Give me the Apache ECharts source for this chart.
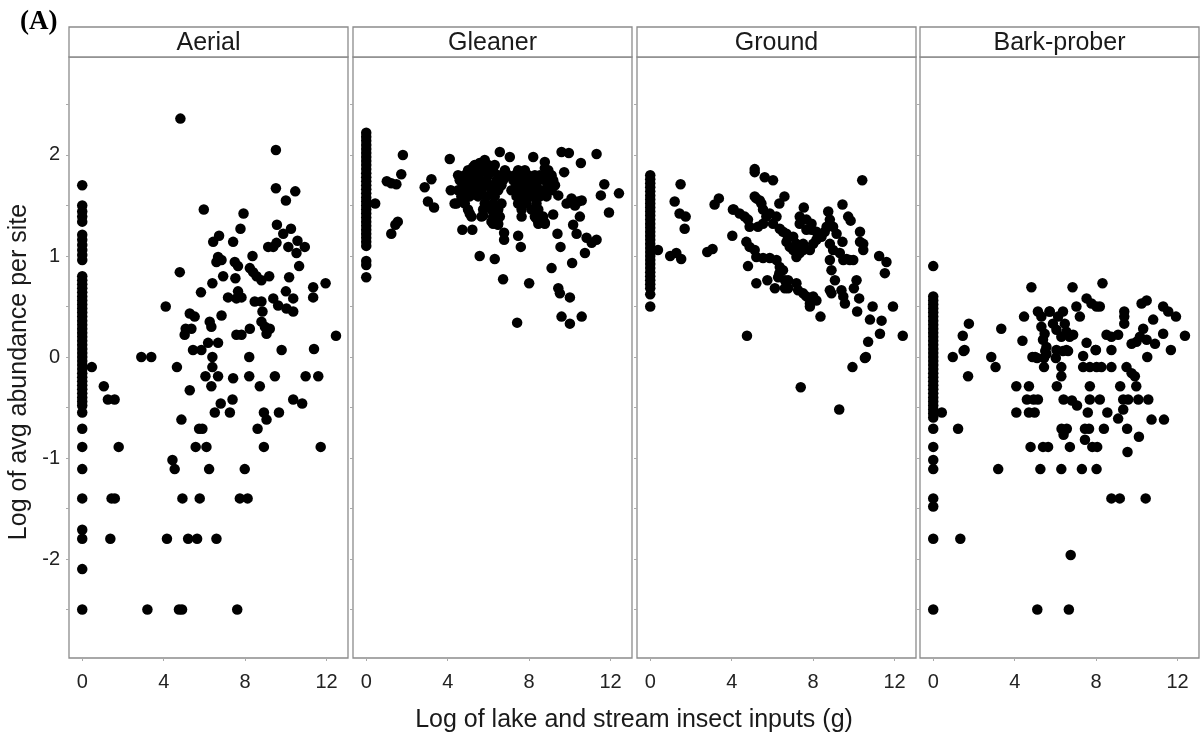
<!DOCTYPE html>
<html><head><meta charset="utf-8">
<script src="https://cdn.jsdelivr.net/npm/echarts@6/dist/echarts.min.js"></script>
<style>html,body{margin:0;padding:0;background:#fff}#c{width:1204px;height:742px}</style>
</head><body><div id="c"></div>
<script>
const panels = ['Aerial', 'Gleaner', 'Ground', 'Bark-prober'];
const xTickLabels = [0, 4, 8, 12];
const yTickLabels = [-2, -1, 0, 1, 2];
const yTickMarks = [-2.5, -2, -1.5, -1, -0.5, 0, 0.5, 1, 1.5, 2, 2.5];

// y values of the sites with x = 0 (stacked columns)
const aerialZeroY = [1.70,1.50,1.44,1.39,1.34,1.21,1.16,1.11,1.06,1.01,0.96,0.80,0.76,0.72,0.68,0.64,0.60,0.56,0.52,0.48,0.44,0.40,0.36,0.32,0.28,0.24,0.20,0.16,0.12,0.08,0.04,0.00,-0.04,-0.08,-0.12,-0.16,-0.20,-0.24,-0.28,-0.32,-0.36,-0.40,-0.44,-0.48,-0.55,-0.71,-0.89,-1.11,-1.40,-1.71,-1.80,-2.10,-2.50];
const gleanerZeroY = [2.22,2.18,2.14,2.10,2.06,2.02,1.98,1.94,1.90,1.86,1.82,1.78,1.74,1.70,1.66,1.62,1.58,1.54,1.50,1.46,1.42,1.38,1.34,1.30,1.26,1.22,1.18,1.14,1.10,0.95,0.91,0.79];
const groundZeroY = [1.80,1.76,1.72,1.68,1.64,1.60,1.56,1.52,1.48,1.44,1.40,1.36,1.32,1.28,1.24,1.20,1.16,1.12,1.08,1.04,1.00,0.96,0.92,0.88,0.84,0.80,0.76,0.72,0.68,0.62,0.50];
const barkZeroY = [0.90,0.60,0.56,0.52,0.48,0.44,0.40,0.36,0.32,0.28,0.24,0.20,0.16,0.12,0.08,0.04,0.00,-0.04,-0.08,-0.12,-0.16,-0.20,-0.24,-0.28,-0.32,-0.36,-0.40,-0.44,-0.48,-0.52,-0.56,-0.60,-0.71,-0.89,-1.02,-1.11,-1.40,-1.48,-1.80,-2.50];

// [x, y] of the other sites
const aerialPts = [[4.82,2.36],[9.51,2.05],[9.51,1.67],[10.46,1.64],[10.0,1.55],[5.97,1.46],[7.92,1.42],[7.77,1.27],[9.56,1.31],[10.25,1.27],[9.87,1.22],[6.72,1.20],[6.43,1.14],[7.41,1.14],[10.57,1.15],[9.54,1.13],[9.13,1.09],[9.38,1.09],[10.12,1.09],[10.93,1.09],[10.52,1.03],[8.36,1.00],[6.67,0.99],[6.84,0.96],[6.59,0.94],[7.49,0.94],[7.65,0.90],[10.65,0.90],[4.79,0.84],[8.23,0.88],[8.39,0.84],[6.92,0.80],[7.52,0.78],[8.56,0.80],[8.80,0.76],[9.18,0.80],[10.16,0.79],[6.39,0.73],[11.95,0.73],[11.34,0.69],[11.34,0.59],[5.83,0.64],[7.65,0.65],[7.82,0.59],[7.16,0.59],[7.57,0.58],[10.0,0.65],[9.38,0.58],[10.36,0.58],[8.47,0.55],[8.80,0.55],[9.62,0.51],[10.03,0.48],[10.36,0.45],[4.10,0.50],[8.85,0.45],[5.28,0.43],[5.52,0.40],[6.84,0.41],[6.26,0.35],[6.34,0.30],[8.80,0.35],[8.97,0.30],[9.21,0.28],[9.05,0.23],[5.08,0.28],[5.36,0.28],[5.03,0.22],[8.23,0.28],[7.57,0.22],[7.82,0.22],[12.46,0.21],[5.44,0.07],[5.85,0.07],[6.18,0.14],[6.67,0.14],[9.79,0.07],[11.38,0.08],[6.39,0.00],[8.20,0.00],[2.90,0.00],[3.39,0.00],[0.47,-0.10],[4.65,-0.10],[6.39,-0.10],[6.05,-0.19],[6.67,-0.19],[7.41,-0.21],[8.20,-0.19],[9.46,-0.19],[10.97,-0.19],[11.59,-0.19],[1.06,-0.29],[6.34,-0.29],[8.72,-0.29],[5.28,-0.33],[1.26,-0.42],[1.59,-0.42],[7.38,-0.42],[10.36,-0.42],[6.80,-0.46],[10.80,-0.46],[6.51,-0.55],[7.25,-0.55],[8.92,-0.55],[9.66,-0.55],[9.05,-0.62],[4.87,-0.62],[5.74,-0.71],[5.90,-0.71],[8.61,-0.71],[1.79,-0.89],[5.57,-0.89],[6.10,-0.89],[8.92,-0.89],[11.71,-0.89],[4.43,-1.02],[4.54,-1.11],[6.23,-1.11],[7.98,-1.11],[1.44,-1.40],[1.60,-1.40],[4.92,-1.40],[5.77,-1.40],[7.74,-1.40],[8.12,-1.40],[1.38,-1.80],[4.16,-1.80],[5.20,-1.80],[5.64,-1.80],[6.59,-1.80],[3.20,-2.50],[4.75,-2.50],[4.90,-2.50],[7.61,-2.50]];

const gleanerPts = [[0.44,1.52],[1.80,2.00],[1.72,1.81],[1.01,1.74],[1.23,1.72],[1.48,1.71],[1.55,1.34],[1.43,1.31],[1.23,1.22],[4.10,1.96],[3.20,1.76],[2.87,1.68],[3.03,1.54],[3.33,1.48],[4.15,1.65],[4.34,1.52],[6.56,2.03],[7.05,1.98],[8.20,1.98],[9.59,2.03],[9.95,2.02],[11.31,2.01],[10.54,1.92],[8.77,1.93],[8.77,1.87],[5.82,1.95],[5.57,1.92],[5.24,1.88],[9.72,1.83],[11.69,1.71],[11.52,1.60],[12.41,1.62],[11.92,1.43],[9.43,1.60],[8.85,1.59],[10.08,1.57],[10.41,1.54],[10.58,1.55],[9.84,1.52],[10.25,1.50],[10.49,1.39],[9.18,1.41],[10.16,1.31],[10.33,1.22],[10.82,1.18],[11.07,1.13],[11.31,1.16],[10.74,1.03],[9.39,1.22],[9.54,1.09],[10.11,0.93],[9.10,0.88],[9.43,0.68],[9.51,0.63],[10.0,0.59],[9.59,0.40],[10.0,0.33],[10.58,0.40],[7.41,0.34],[6.72,0.77],[8.00,0.73],[5.57,1.00],[6.31,0.97],[7.46,1.20],[7.59,1.09],[6.77,1.23],[6.77,1.16],[4.72,1.26],[5.21,1.26],[5.74,1.40],[5.08,1.42],[6.15,1.34],[6.47,1.31],[8.36,1.37],[8.77,1.33],
[5.33,1.90],[5.66,1.90],[5.99,1.90],[6.31,1.90],
[5.00,1.85],[5.33,1.85],[5.82,1.85],[6.23,1.85],[6.81,1.85],[7.46,1.85],[7.79,1.85],[8.94,1.85],
[4.51,1.80],[4.84,1.80],[5.17,1.80],[5.49,1.80],[5.99,1.80],[6.48,1.80],[6.97,1.80],[7.30,1.80],[7.63,1.80],[7.95,1.80],[8.28,1.80],[8.53,1.80],[8.86,1.80],[9.10,1.80],
[4.59,1.75],[4.92,1.75],[5.25,1.75],[5.58,1.75],[5.90,1.75],[6.40,1.75],[6.72,1.75],[7.22,1.75],[7.54,1.75],[7.87,1.75],[8.12,1.75],[8.45,1.75],[8.77,1.75],[9.18,1.75],
[4.76,1.70],[5.08,1.70],[5.41,1.70],[5.82,1.70],[6.23,1.70],[6.64,1.70],[7.38,1.70],[7.71,1.70],[8.04,1.70],[8.36,1.70],[8.94,1.70],[9.27,1.70],
[4.51,1.65],[4.92,1.65],[5.33,1.65],[5.66,1.65],[6.15,1.65],[6.48,1.65],[7.13,1.65],[7.46,1.65],[7.87,1.65],[8.28,1.65],[8.69,1.65],[9.10,1.65],
[4.67,1.59],[5.08,1.59],[5.49,1.59],[5.90,1.59],[6.31,1.59],[7.38,1.59],[7.71,1.59],[8.12,1.59],[8.53,1.59],
[4.43,1.52],[4.84,1.52],[5.82,1.52],[6.23,1.52],[6.64,1.52],[7.46,1.52],[7.87,1.52],[8.36,1.52],
[5.00,1.46],[5.74,1.46],[6.15,1.46],[6.48,1.46],[7.63,1.46],[8.12,1.46],[8.45,1.46],
[5.17,1.39],[5.66,1.39],[6.23,1.39],[6.56,1.39],[7.63,1.39],[8.28,1.39],[8.69,1.39],
[6.23,1.32],[6.48,1.32],[8.45,1.32],[8.77,1.32]];

const groundPts = [[0.38,1.06],[1.49,1.71],[1.20,1.54],[1.44,1.42],[1.74,1.39],[1.69,1.27],[0.98,1.00],[1.28,1.03],[1.52,0.97],[2.80,1.04],[3.06,1.07],[3.16,1.51],[3.37,1.57],[4.10,1.46],[4.03,1.20],[5.13,1.83],[5.13,1.86],[5.62,1.78],[6.03,1.75],[10.41,1.75],[5.13,1.59],[5.38,1.55],[6.59,1.59],[6.34,1.52],[4.39,1.42],[4.64,1.39],[4.80,1.36],[7.54,1.48],[8.74,1.44],[9.44,1.51],[9.72,1.39],[9.84,1.35],[7.34,1.39],[7.67,1.36],[7.92,1.32],[10.30,1.24],[10.30,1.14],[10.46,1.12],[10.46,1.06],[11.24,1.00],[11.60,0.94],[11.52,0.83],[9.44,1.14],[9.64,0.97],[9.97,0.96],[4.80,0.90],[5.21,0.73],[5.75,0.76],[6.12,0.68],[6.61,0.68],[6.77,0.76],[6.34,0.83],[10.13,0.76],[10.0,0.68],[10.26,0.58],[10.16,0.45],[10.92,0.50],[10.79,0.37],[11.36,0.36],[11.28,0.23],[11.92,0.50],[12.40,0.21],[10.70,0.15],[10.59,0.00],[4.75,0.21],[8.36,0.40],[10.54,-0.01],[9.93,-0.10],[7.39,-0.30],[9.28,-0.52],
[4.06,1.46],[5.21,1.57],[5.46,1.52],[5.54,1.46],[5.70,1.39],[5.87,1.42],[6.20,1.39],[6.03,1.32],[5.54,1.32],[5.29,1.29],[4.88,1.29],[4.72,1.14],[4.88,1.09],[5.13,1.06],[5.21,0.99],[5.54,0.98],[5.87,0.98],[6.20,0.96],[6.36,0.89],[6.28,0.79],[6.52,0.86],[6.69,1.14],[6.85,1.09],[7.02,1.06],[7.18,0.99],[7.34,1.03],[7.51,1.06],[7.84,1.06],[8.00,1.12],[8.16,1.16],[8.41,1.19],[8.57,1.24],[8.66,1.29],[8.82,1.36],[8.98,1.29],[9.15,1.22],[8.82,1.12],[8.98,1.06],[8.82,0.96],[8.90,0.86],[9.07,0.76],[9.31,1.03],[9.48,0.96],[9.80,0.96],[6.69,1.22],[6.52,1.24],[6.36,1.27],[7.02,1.19],[7.18,1.12],[7.51,1.12],[7.67,1.26],[7.34,1.32],[7.92,1.26],[8.16,1.24],[6.61,0.76],[6.77,0.68],[7.18,0.73],[7.26,0.66],[7.51,0.63],[7.67,0.60],[7.84,0.53],[8.00,0.60],[8.16,0.56],[7.84,0.50],[8.82,0.66],[8.90,0.63],[9.39,0.66],[9.48,0.60],[9.56,0.53]];

const barkPts = [[4.82,0.69],[6.84,0.69],[8.31,0.73],[7.53,0.58],[7.77,0.53],[8.02,0.50],[8.18,0.50],[7.03,0.50],[7.20,0.40],[5.14,0.45],[5.71,0.45],[6.37,0.45],[4.46,0.40],[1.75,0.33],[1.45,0.21],[1.54,0.07],[0.96,0.00],[3.34,0.28],[2.85,0.00],[4.38,0.16],[9.38,0.45],[9.38,0.40],[9.38,0.33],[8.51,0.22],[8.75,0.20],[9.08,0.22],[8.75,0.07],[7.53,0.14],[7.99,0.07],[7.36,0.01],[10.23,0.53],[10.48,0.56],[11.29,0.50],[11.54,0.45],[11.92,0.40],[10.80,0.37],[10.31,0.28],[10.15,0.20],[9.98,0.15],[9.74,0.13],[10.48,0.17],[11.29,0.23],[10.89,0.13],[12.36,0.21],[11.67,0.07],[10.51,0.00],[4.87,0.00],[5.00,0.00],
[5.31,0.40],[5.31,0.30],[5.47,0.23],[5.39,0.17],[5.56,0.10],[5.72,0.45],[5.88,0.33],[6.05,0.27],[6.13,0.40],[6.29,0.20],[6.46,0.33],[6.54,0.25],[6.70,0.20],[6.87,0.22],[5.56,0.03],[6.05,0.07],[6.54,0.07],
[0.42,-0.55],[1.49,0.06],[1.71,-0.19],[1.22,-0.71],[1.33,-1.80],[3.06,-0.10],[3.19,-1.11],[4.08,-0.29],[4.08,-0.55],[4.70,-0.29],[4.60,-0.42],[4.93,-0.42],[5.14,-0.42],[4.70,-0.55],[4.98,-0.55],[4.78,-0.89],[5.39,-0.89],[5.64,-0.89],[6.71,-0.89],[5.26,-1.11],[6.29,-1.11],[7.30,-1.11],[8.02,-1.11],[6.07,-0.29],[6.40,-0.42],[6.81,-0.43],[7.06,-0.48],[6.30,-0.71],[6.56,-0.71],[6.40,-0.77],[6.29,-0.10],[6.29,-0.19],[5.10,-0.01],[5.44,-0.01],[5.44,-0.10],[6.02,-0.01],[7.69,-0.10],[7.36,-0.10],[8.02,-0.10],[8.26,-0.10],[8.75,-0.10],[9.49,-0.10],[9.74,-0.16],[9.90,-0.19],[7.69,-0.29],[9.18,-0.29],[9.97,-0.29],[7.69,-0.42],[8.18,-0.42],[9.33,-0.42],[9.57,-0.42],[10.07,-0.42],[10.56,-0.42],[7.59,-0.55],[8.55,-0.55],[9.33,-0.52],[9.08,-0.61],[10.72,-0.62],[11.33,-0.62],[7.45,-0.71],[7.65,-0.71],[8.38,-0.71],[9.52,-0.71],[10.10,-0.79],[7.45,-0.82],[7.81,-0.89],[8.05,-0.89],[9.54,-0.94],[8.75,-1.40],[9.16,-1.40],[10.43,-1.40],[6.75,-1.96],[5.11,-2.50],[6.66,-2.50],[5.50,0.06],[6.37,0.06],[6.62,0.06],[7.97,0.07]];

const zeroCols = [aerialZeroY, gleanerZeroY, groundZeroY, barkZeroY];
const ptSets = [aerialPts, gleanerPts, groundPts, barkPts];

const panelLefts = [69, 353, 637, 920];
const panelW = 279, panelTop = 57, panelH = 601;
const fontFam = "'Liberation Sans', Arial, sans-serif";
const borderCol = '#8c8c8c';

const grids = [], xAxes = [], yAxes = [], seriesList = [], graphics = [];
panels.forEach((name, i) => {
  grids.push({left: panelLefts[i], top: panelTop, width: panelW, height: panelH, show: true,
    borderColor: borderCol, borderWidth: 1.3, backgroundColor: '#fff'});
  xAxes.push({gridIndex: i, type: 'value', min: -0.65, max: 13.05,
    splitLine: {show: false}, axisLine: {show: false, onZero: false},
    axisTick: {show: true, length: 3, lineStyle: {color: '#aaa'}, customValues: xTickLabels},
    axisLabel: {customValues: xTickLabels, fontSize: 20, color: '#222', margin: 14, fontFamily: fontFam}});
  yAxes.push({gridIndex: i, type: 'value', min: -2.98, max: 2.97,
    splitLine: {show: false}, axisLine: {show: false, onZero: false},
    axisTick: {show: true, length: 3, lineStyle: {color: '#aaa'}, customValues: yTickMarks},
    axisLabel: {show: i === 0, customValues: yTickLabels, fontSize: 20, color: '#222', margin: 9, fontFamily: fontFam}});
  const data = zeroCols[i].map(y => [0, y]).concat(ptSets[i]);
  seriesList.push({type: 'scatter', xAxisIndex: i, yAxisIndex: i, data: data,
    symbolSize: 10.5, itemStyle: {color: '#000', opacity: 1}, silent: true, animation: false});
  graphics.push({type: 'rect', shape: {x: panelLefts[i], y: 27, width: panelW, height: 30},
    style: {fill: '#fff', stroke: borderCol, lineWidth: 1.3}, z: 10});
  graphics.push({type: 'text', x: panelLefts[i] + panelW / 2, y: 43,
    style: {text: name, fontSize: 25, fill: '#1a1a1a', fontFamily: fontFam, textAlign: 'center', textVerticalAlign: 'middle'}, z: 11});
});
graphics.push({type: 'text', x: 20, y: 22, style: {text: '(A)', fontSize: 27, fontWeight: 'bold',
  fontFamily: "'Liberation Serif', 'Times New Roman', serif", fill: '#000', textAlign: 'left', textVerticalAlign: 'middle'}});
graphics.push({type: 'text', x: 19, y: 372, rotation: Math.PI / 2,
  style: {text: 'Log of avg abundance per site', fontSize: 25, fill: '#1a1a1a', fontFamily: fontFam, textAlign: 'center', textVerticalAlign: 'middle'}});
graphics.push({type: 'text', x: 634, y: 720,
  style: {text: 'Log of lake and stream insect inputs (g)', fontSize: 25, fill: '#1a1a1a', fontFamily: fontFam, textAlign: 'center', textVerticalAlign: 'middle'}});

const chart = echarts.init(document.getElementById('c'), null, {renderer: 'canvas'});
chart.setOption({animation: false, backgroundColor: '#fff', grid: grids, xAxis: xAxes, yAxis: yAxes, series: seriesList, graphic: graphics});
</script></body></html>
